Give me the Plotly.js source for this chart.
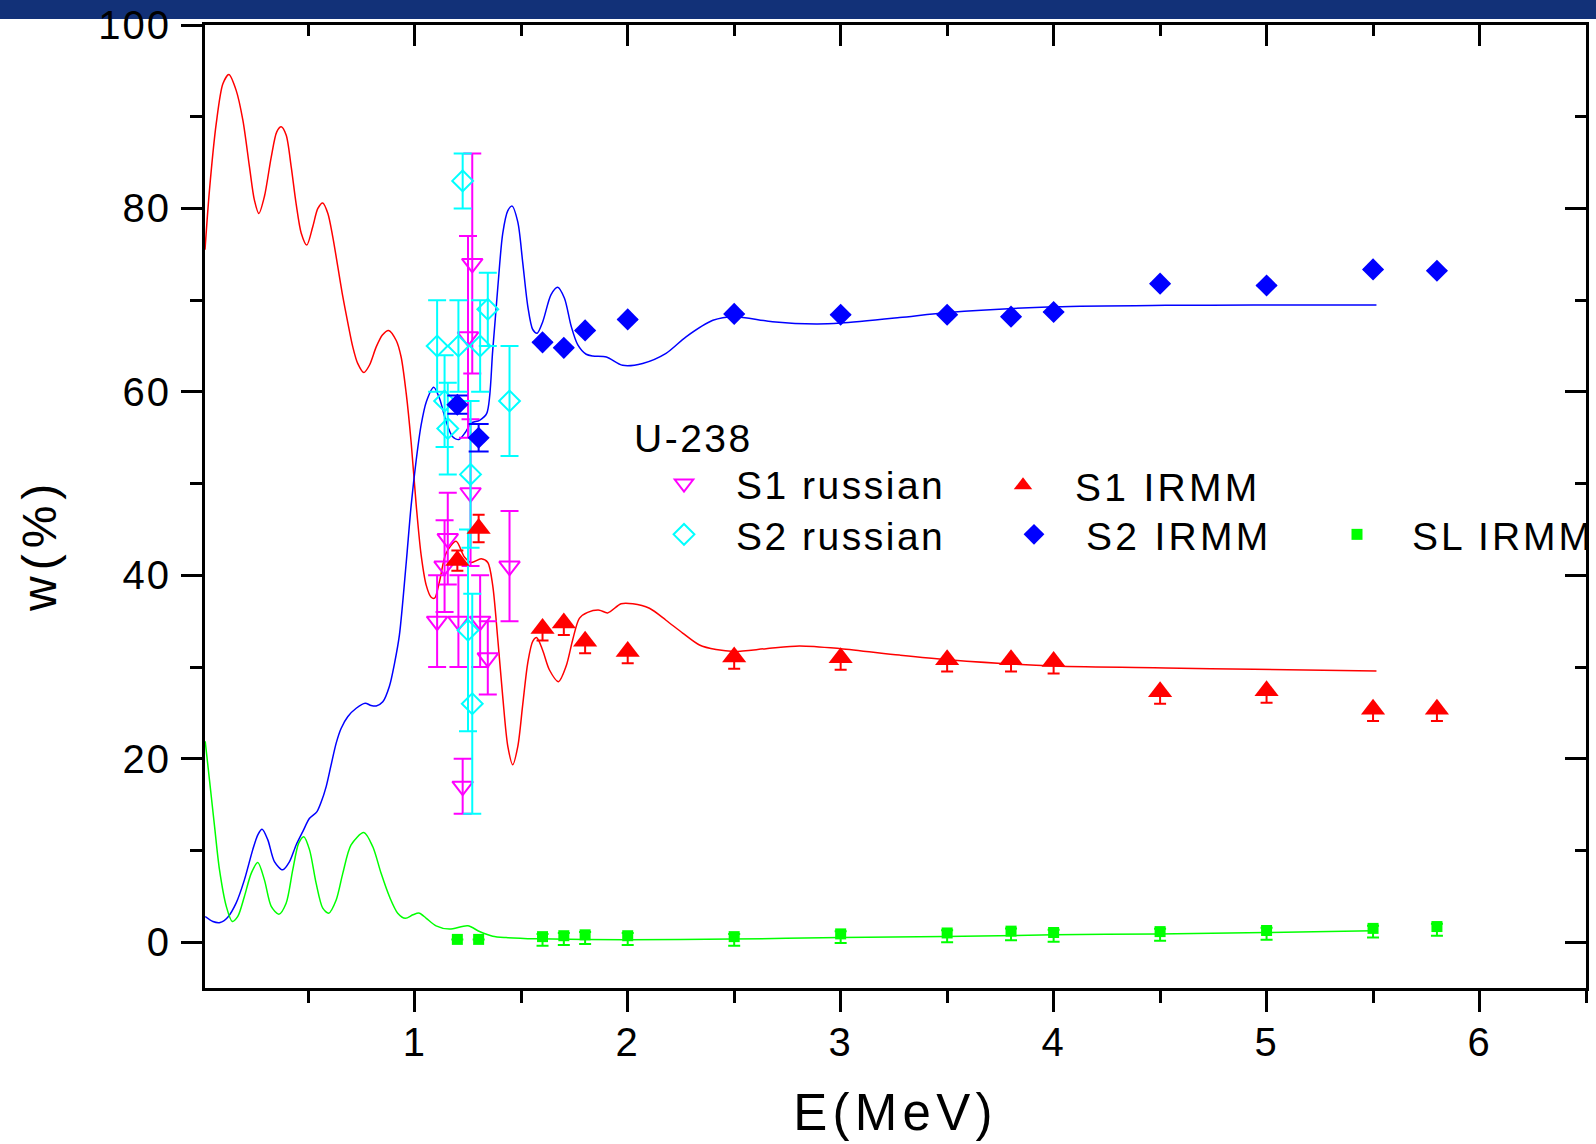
<!DOCTYPE html>
<html>
<head>
<meta charset="utf-8">
<script src="https://cdn.plot.ly/plotly-3.0.1.min.js"></script>
<style>
html,body{margin:0;padding:0;background:#fff;}
#chart{width:1596px;height:1144px;}
.xtick text,.ytick text{letter-spacing:2px;}
.xtitle{letter-spacing:5.3px;}
.annotation-text{letter-spacing:6px;}
.legendtext,.legendtitletext{letter-spacing:2.5px;}
g.scrollbox{clip-path:none !important;}
</style>
</head>
<body>
<div id="chart"></div>
<script>
// ---------- model curves ----------
const fitS1_E = [0.015,0.036,0.068,0.099,0.127,0.161,0.193,0.224,0.247,0.268,0.294,0.326,0.352,0.373,0.396,0.42,0.443,0.467,0.493,0.521,0.545,0.568,0.592,0.615,0.639,0.662,0.686,0.709,0.732,0.761,0.787,0.819,0.848,0.877,0.913,0.936,0.96,0.983,1.007,1.03,1.054,1.077,1.093,1.116,1.147,1.194,1.233,1.265,1.312,1.343,1.366,1.39,1.413,1.437,1.46,1.484,1.507,1.531,1.554,1.573,1.601,1.632,1.675,1.711,1.742,1.773,1.812,1.867,1.906,1.969,2.024,2.102,2.18,2.258,2.337,2.415,2.501,2.65,2.806,3.0,3.276,3.505,4.005,4.526,4.94,5.516];
const fitS1_w = [75.5,82.0,89.3,93.6,94.6,92.9,89.6,84.5,80.9,79.45,81.3,85.6,88.35,88.9,88.0,84.5,80.5,77.3,76.0,78.0,80.0,80.6,79.45,76.9,73.6,70.4,67.5,64.9,63.1,62.1,62.9,64.9,66.2,66.7,65.6,63.8,59.8,54.5,47.6,42.2,38.9,37.6,37.5,39.3,42.4,43.7,42.0,41.4,41.8,41.4,38.9,33.0,26.8,21.35,19.35,21.35,25.9,30.5,32.8,33.2,31.8,29.7,28.4,30.1,33.0,35.3,35.95,36.2,35.9,36.9,36.9,36.4,35.1,33.7,32.4,31.9,31.7,32.0,32.3,32.0,31.3,30.8,30.1,29.9,29.75,29.57];

const fitS2_E = [0.016,0.052,0.086,0.122,0.161,0.2,0.239,0.263,0.283,0.31,0.341,0.38,0.412,0.443,0.474,0.506,0.54,0.561,0.584,0.607,0.631,0.654,0.686,0.725,0.767,0.795,0.819,0.85,0.881,0.905,0.928,0.96,0.983,1.007,1.03,1.054,1.089,1.116,1.147,1.178,1.207,1.238,1.265,1.304,1.338,1.366,1.39,1.413,1.437,1.457,1.484,1.507,1.531,1.554,1.575,1.601,1.64,1.671,1.703,1.734,1.765,1.805,1.836,1.9,1.976,2.07,2.18,2.274,2.4,2.501,2.68,2.885,3.0,3.276,3.505,4.005,4.526,4.94,5.516];
const fitS2_w = [2.79,2.25,2.14,2.72,4.25,6.79,10.06,11.7,12.3,11.15,8.78,7.88,8.78,10.6,12.05,13.5,14.2,15.3,16.96,19.3,21.7,23.3,24.6,25.5,26.05,25.8,25.75,26.2,27.9,30.4,33.5,41.4,47.6,52.6,56.4,58.9,60.5,59.3,56.8,55.1,54.8,55.6,56.6,56.9,57.65,64.5,71.4,77.25,79.75,80.25,78.5,74.1,69.3,66.8,66.4,67.65,70.6,71.4,70.2,67.2,65.15,64.1,63.9,63.8,62.9,63.1,64.2,66.0,67.8,68.2,67.65,67.4,67.5,68.1,68.66,69.27,69.43,69.46,69.46];

const fitSL_E = [0.016,0.036,0.06,0.083,0.115,0.143,0.169,0.2,0.232,0.263,0.294,0.326,0.362,0.396,0.427,0.455,0.479,0.506,0.537,0.568,0.596,0.631,0.662,0.701,0.761,0.803,0.842,0.881,0.92,0.956,0.991,1.022,1.054,1.1,1.163,1.249,1.304,1.366,1.429,1.571,1.99,2.49,3.0,3.49,4.0,4.49,4.995,5.5];
const fitSL_w = [21.9,17.7,12.6,7.9,3.9,2.25,2.8,4.97,7.5,8.68,6.79,3.9,3.05,4.25,7.88,10.8,11.5,10.06,6.4,3.7,3.16,4.6,7.5,10.6,11.95,10.4,7.5,4.97,3.16,2.6,2.98,3.16,2.6,1.78,1.42,1.78,1.16,0.65,0.5,0.36,0.25,0.33,0.5,0.61,0.8,0.9,1.05,1.23];

// ---------- russian data ----------
const russE      = [1.105,1.14,1.155,1.205,1.225,1.25,1.262,1.27,1.307,1.343,1.445];
const s1Russ     = [35,41,44,35,17,66,49,74,35,31,41];
const s1RussErr  = [5,5,5,5,3,11,8,12,5,4,6];
const s2Russ     = [65,59,56,65,83,34,51,26,65,69,59];
const s2RussErr  = [5,5,5,5,3,11,8,12,5,4,6];

// ---------- IRMM data ----------
const irmmE         = [1.2,1.3,1.6,1.7,1.8,2.0,2.5,3.0,3.5,3.8,4.0,4.5,5.0,5.5,5.8];
const s1Irmm        = [41.6,45.1,34.2,34.8,32.8,31.7,31.1,31.0,30.8,30.8,30.6,27.3,27.4,25.4,25.4];
const s1IrmmErrUp   = [1.1,1.5,0,0,0,0,0,0,0,0,0,0,0,0,0];
const s1IrmmErrDown = [1.1,1.5,1.3,1.3,1.3,1.3,1.3,1.3,1.3,1.3,1.3,1.3,1.3,1.3,1.3];
const s2Irmm        = [58.6,55.0,65.4,64.8,66.7,67.9,68.5,68.4,68.4,68.2,68.7,71.8,71.6,73.35,73.2];
const s2IrmmErr     = [1.0,1.5,0,0,0,0,0,0,0,0,0,0,0,0,0];
const slIrmm        = [0.3,0.3,0.6,0.7,0.8,0.7,0.6,0.9,1.0,1.2,1.05,1.15,1.27,1.5,1.7];
const slIrmmErrUp   = [0,0,0.3,0.3,0.3,0.3,0.3,0.3,0.3,0.3,0.3,0.3,0.3,0.3,0.3];
const slIrmmErrDown = [0,0,1,1,1,1,1,1,1,1,1,1,1,1,1];

// ---------- text ----------
const xTitle = 'E(MeV)';
const yTitle = 'w(%)';
const legendTitle = 'U-238';
const seriesNames = ['S1 russian','S2 russian','S1 IRMM','S2 IRMM','SL IRMM'];

const FONT = '"Liberation Sans", Arial, Helvetica, sans-serif';
const RED='#ff0000', BLUE='#0000ff', GREEN='#00ff00', MAG='#ff00ff', CYAN='#00ffff';

const traces = [
  {x:fitS1_E, y:fitS1_w, mode:'lines', line:{color:RED,width:1.5,shape:'spline',smoothing:0.8}, showlegend:false, hoverinfo:'skip'},
  {x:fitS2_E, y:fitS2_w, mode:'lines', line:{color:BLUE,width:1.5,shape:'spline',smoothing:0.8}, showlegend:false, hoverinfo:'skip'},
  {x:fitSL_E, y:fitSL_w, mode:'lines', line:{color:GREEN,width:1.5,shape:'spline',smoothing:0.8}, showlegend:false, hoverinfo:'skip'},
  {x:russE, y:s1Russ, name:seriesNames[0], legend:'legend', xaxis:'x2', yaxis:'y2', mode:'markers',
   marker:{symbol:'triangle-down-open', size:18, color:MAG, line:{color:MAG,width:2}},
   error_y:{type:'data', array:s1RussErr, visible:true, color:MAG, thickness:2, width:9}},
  {x:russE, y:s2Russ, name:seriesNames[1], legend:'legend2', xaxis:'x2', yaxis:'y2', mode:'markers',
   marker:{symbol:'diamond-open', size:16, color:CYAN, line:{color:CYAN,width:2}},
   error_y:{type:'data', array:s2RussErr, visible:true, color:CYAN, thickness:2, width:9}},
  {x:irmmE, y:s1Irmm, name:seriesNames[2], legend:'legend3', xaxis:'x2', yaxis:'y2', mode:'markers',
   marker:{symbol:'triangle-up', size:21, color:RED},
   error_y:{type:'data', symmetric:false, array:s1IrmmErrUp, arrayminus:s1IrmmErrDown, visible:true, color:RED, thickness:2, width:6}},
  {x:irmmE, y:s2Irmm, name:seriesNames[3], legend:'legend4', xaxis:'x2', yaxis:'y2', mode:'markers',
   marker:{symbol:'diamond', size:17, color:BLUE},
   error_y:{type:'data', array:s2IrmmErr, visible:true, color:BLUE, thickness:2, width:10}},
  {x:irmmE, y:slIrmm, name:seriesNames[4], legend:'legend5', xaxis:'x2', yaxis:'y2', mode:'markers',
   marker:{symbol:'square', size:11, color:GREEN},
   error_y:{type:'data', symmetric:false, array:slIrmmErrUp, arrayminus:slIrmmErrDown, visible:true, color:GREEN, thickness:2, width:6}}
];

const W=1596, H=1144, ML=205, MR=10, MT=25, MB=156;
const PW=W-ML-MR, PH=H-MT-MB;
const px = X => (X-ML)/PW;
const py = Y => 1-(Y-MT)/PH;

const axCommon = {showgrid:false, zeroline:false, showline:true, linewidth:3, linecolor:'#000',
  tickwidth:3, tickcolor:'#000', ticklen:21};
const xr=[0.015,6.5], yr=[-5,100];

const legBase = {xanchor:'left', bgcolor:'rgba(0,0,0,0)', borderwidth:0, itemwidth:94,
  font:{family:FONT,size:39,color:'#000'}, itemclick:false, itemdoubleclick:false};

const layout = {
  width:W, height:H,
  margin:{l:ML,r:MR,t:MT,b:MB,autoexpand:false},
  paper_bgcolor:'#fff', plot_bgcolor:'#fff',
  font:{family:FONT,color:'#000'},
  xaxis:Object.assign({}, axCommon, {range:xr, autorange:false, ticks:'outside', tick0:0, dtick:1,
    tickfont:{family:FONT,size:40,color:'#000'}, ticklabelstandoff:-4,
    minor:{ticks:'outside', ticklen:12, tickwidth:3, tickcolor:'#000', tick0:0, dtick:0.5, showgrid:false},
    title:{text:xTitle, font:{family:FONT,size:51,color:'#000'}, standoff:32}}),
  yaxis:Object.assign({}, axCommon, {range:yr, autorange:false, ticks:'outside', tick0:0, dtick:20,
    tickfont:{family:FONT,size:40,color:'#000'}, ticklabelstandoff:2,
    minor:{ticks:'outside', ticklen:12, tickwidth:3, tickcolor:'#000', tick0:0, dtick:10, showgrid:false}}),
  xaxis2:Object.assign({}, axCommon, {overlaying:'x', side:'top', anchor:'y2', range:xr, autorange:false,
    ticks:'inside', tick0:0, dtick:1, showticklabels:false,
    minor:{ticks:'inside', ticklen:11, tickwidth:3, tickcolor:'#000', tick0:0, dtick:0.5, showgrid:false}}),
  yaxis2:Object.assign({}, axCommon, {overlaying:'y', side:'right', anchor:'x2', range:yr, autorange:false,
    ticks:'inside', tick0:0, dtick:20, showticklabels:false,
    minor:{ticks:'inside', ticklen:11, tickwidth:3, tickcolor:'#000', tick0:0, dtick:10, showgrid:false}}),
  legend:Object.assign({}, legBase, {x:px(632), y:py(401), yanchor:'top',
    title:{text:legendTitle, font:{family:FONT,size:39,color:'#000'}}}),
  legend2:Object.assign({}, legBase, {x:px(632), y:py(534.5), yanchor:'middle'}),
  legend3:Object.assign({}, legBase, {x:px(971), y:py(485.5), yanchor:'middle'}),
  legend4:Object.assign({}, legBase, {x:px(982), y:py(534.5), yanchor:'middle'}),
  legend5:Object.assign({}, legBase, {x:px(1302), y:py(534.5), yanchor:'middle', itemwidth:100}),
  annotations:[{text:yTitle, textangle:-90, xref:'paper', yref:'paper', x:px(39), y:py(545),
    xanchor:'center', yanchor:'middle', showarrow:false, font:{family:FONT,size:48,color:'#000'}}],
  shapes:[{type:'rect', xref:'paper', yref:'paper', layer:'below',
    x0:px(0), x1:px(W), y0:py(19), y1:py(0), fillcolor:'#123178', line:{width:0}}],
  showlegend:true
};

// letter spacing of the legend labels, as in the original lettering
function spaceLegendText(root){
  root.querySelectorAll('text').forEach(function(t){
    var s = t.textContent || '';
    var sp = null;
    if(s.indexOf('IRMM') >= 0) sp = (s.indexOf('SL') === 0 ? '3px' : '3.3px');
    else if(s.indexOf('russian') >= 0 || s.indexOf('U-238') >= 0) sp = '2.5px';
    if(sp){ t.style.letterSpacing = sp; t.setAttribute('letter-spacing', sp); }
  });
  root.querySelectorAll('g.scrollbox').forEach(function(g){ g.removeAttribute('clip-path'); g.style.clipPath = 'none'; });
}

const gdDiv = document.getElementById('chart');
const p = Plotly.newPlot(gdDiv, traces, layout, {staticPlot:true, displayModeBar:false});
spaceLegendText(gdDiv);
gdDiv.on && gdDiv.on('plotly_afterplot', function(){ spaceLegendText(gdDiv); });
p.then(function(){ spaceLegendText(gdDiv); });
</script>
</body>
</html>
